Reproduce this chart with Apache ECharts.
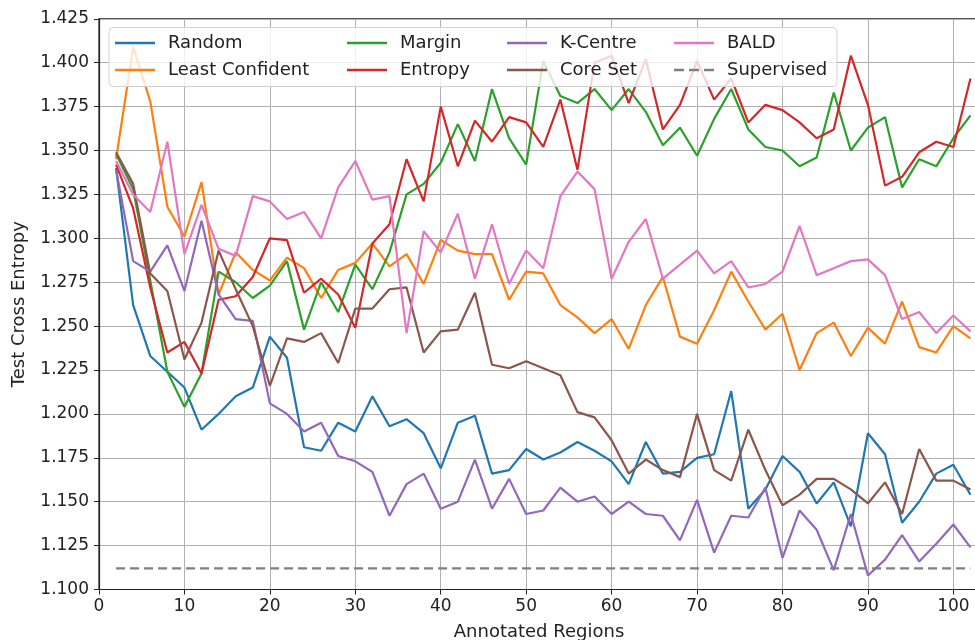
<!DOCTYPE html>
<html>
<head>
<meta charset="utf-8">
<script src="https://cdn.jsdelivr.net/npm/echarts@6/dist/echarts.min.js"></script>
<style>
  html, body { margin: 0; padding: 0; background: #fff; }
  #chart { width: 975px; height: 640px; }
</style>
</head>
<body>
<div id="chart"></div>
<script>
const xValues = [2,4,6,8,10,12,14,16,18,20,22,24,26,28,30,32,34,36,38,40,42,44,46,48,50,
  52,54,56,58,60,62,64,66,68,70,72,74,76,78,80,82,84,86,88,90,92,94,96,98,100,102];

const random = [1.340,1.262,1.233,1.224,1.215,1.191,1.200,1.210,1.215,1.244,1.232,1.181,1.179,
  1.195,1.190,1.210,1.193,1.197,1.189,1.169,1.195,1.199,1.166,1.168,1.180,
  1.174,1.178,1.184,1.179,1.173,1.160,1.184,1.166,1.167,1.175,1.177,1.213,1.146,
  1.157,1.176,1.167,1.149,1.161,1.136,1.189,1.177,1.138,1.150,1.166,1.171,1.154];

const leastConfident = [1.345,1.409,1.378,1.318,1.301,1.332,1.268,1.292,1.282,1.276,1.289,1.283,1.266,
  1.282,1.286,1.297,1.284,1.291,1.274,1.299,1.293,1.291,1.291,1.265,1.281,
  1.280,1.262,1.255,1.246,1.254,1.237,1.262,1.278,1.244,1.240,1.259,1.281,1.264,
  1.248,1.257,1.225,1.246,1.252,1.233,1.249,1.240,1.264,1.238,1.235,1.250,1.243];

const margin = [1.348,1.328,1.276,1.224,1.204,1.223,1.281,1.275,1.266,1.273,1.287,1.248,1.275,
  1.258,1.285,1.271,1.292,1.325,1.331,1.343,1.365,1.344,1.385,1.357,1.342,
  1.401,1.381,1.377,1.385,1.373,1.385,1.372,1.353,1.363,1.347,1.368,1.385,1.362,
  1.352,1.350,1.341,1.346,1.383,1.350,1.363,1.369,1.329,1.345,1.341,1.357,1.370];

const entropy = [1.342,1.317,1.272,1.235,1.241,1.223,1.265,1.267,1.278,1.300,1.299,1.269,1.277,
  1.268,1.249,1.297,1.308,1.345,1.321,1.375,1.341,1.367,1.355,1.369,1.366,
  1.352,1.379,1.339,1.400,1.404,1.377,1.402,1.362,1.376,1.401,1.379,1.391,1.366,
  1.376,1.373,1.366,1.357,1.362,1.404,1.376,1.330,1.335,1.349,1.355,1.352,1.391];

const kCentre = [1.339,1.287,1.281,1.296,1.270,1.310,1.268,1.254,1.253,1.206,1.200,1.190,1.195,
  1.176,1.173,1.167,1.142,1.160,1.166,1.146,1.150,1.174,1.146,1.163,1.143,
  1.145,1.158,1.150,1.153,1.143,1.150,1.143,1.142,1.128,1.151,1.121,1.142,1.141,
  1.158,1.118,1.145,1.134,1.111,1.143,1.108,1.117,1.131,1.116,1.126,1.137,1.124];

const coreSet = [1.349,1.331,1.280,1.270,1.231,1.252,1.293,1.271,1.250,1.216,1.243,1.241,1.246,
  1.229,1.260,1.260,1.271,1.272,1.235,1.247,1.248,1.269,1.228,1.226,1.230,
  1.226,1.222,1.201,1.198,1.185,1.166,1.174,1.168,1.164,1.200,1.168,1.162,1.191,
  1.168,1.148,1.154,1.163,1.163,1.157,1.149,1.161,1.143,1.180,1.162,1.162,1.157];

const bald = [1.344,1.325,1.315,1.355,1.291,1.319,1.294,1.290,1.324,1.321,1.311,1.315,1.300,
  1.329,1.344,1.322,1.324,1.246,1.304,1.292,1.314,1.277,1.308,1.274,1.293,
  1.283,1.324,1.338,1.328,1.277,1.298,1.311,1.277,1.285,1.293,1.280,1.287,1.272,
  1.274,1.281,1.307,1.279,1.283,1.287,1.288,1.279,1.254,1.258,1.246,1.256,1.247];

const supervisedValue = 1.112;
const supervisedX = [2, 102];

const yTicks = { min: 1.1, max: 1.425, step: 0.025 };
const xTicks = { min: 0, max: 103, step: 10 };

const FONT = 'DejaVu Sans';
const LEGEND_FONT = 18;
const SOLID_ICON = 'path://M0,0 L40,0 L40,2.4 L0,2.4 Z';
const DASHED_ICON = 'path://M0,0 L10,0 L10,2.4 L0,2.4 Z M15,0 L25,0 L25,2.4 L15,2.4 Z M30,0 L40,0 L40,2.4 L30,2.4 Z';
const colors = {
  'Random': '#1f77b4', 'Least Confident': '#ff7f0e', 'Margin': '#2ca02c', 'Entropy': '#d62728',
  'K-Centre': '#9467bd', 'Core Set': '#8c564b', 'BALD': '#e377c2', 'Supervised': '#7f7f7f'
};
const seriesDefs = [
  ['Random', random], ['Least Confident', leastConfident], ['Margin', margin], ['Entropy', entropy],
  ['K-Centre', kCentre], ['Core Set', coreSet], ['BALD', bald]
];

const series = seriesDefs.map(([name, vals]) => ({
  name, type: 'line', symbol: 'none', smooth: false,
  data: xValues.map((x, i) => [x, vals[i]]),
  lineStyle: { color: colors[name], width: 2.2 },
  itemStyle: { color: colors[name] },
  z: 2
}));
series.push({
  name: 'Supervised', type: 'line', symbol: 'none',
  data: supervisedX.map(x => [x, supervisedValue]),
  lineStyle: { color: colors['Supervised'], width: 2.2, type: [9, 5] },
  itemStyle: { color: colors['Supervised'] },
  z: 2
});

// measure width of first legend column to size the frame drawn behind it
const mctx = document.createElement('canvas').getContext('2d');
mctx.font = LEGEND_FONT + 'px "' + FONT + '"';
const col1TextW = Math.max(mctx.measureText('Random').width, mctx.measureText('Least Confident').width);
const BOX = { left: 109, top: 27.5, width: 728, height: 59 };
const col1ContentW = 40 + 5 + 8 + col1TextW;
const padL = 6, padT = 5.5;
const padR = BOX.width - padL - col1ContentW;
const padB = BOX.height - padT - 47;

function legendCol(left, names, first) {
  const o = {
    orient: 'vertical', left: first ? BOX.left : left, top: first ? BOX.top : BOX.top + padT,
    padding: first ? [padT, padR, padB, padL] : 0,
    itemWidth: 40, itemHeight: 14, itemGap: 7,
    icon: SOLID_ICON,
    data: names.map(n => n === 'Supervised' ? { name: n, icon: DASHED_ICON } : n),
    textStyle: { fontFamily: FONT, fontSize: LEGEND_FONT, color: '#222', lineHeight: 20, padding: [0, 0, 0, 8] },
    zlevel: 1, z: first ? 5 : 6, selectedMode: false
  };
  if (first) {
    o.backgroundColor = 'rgba(255,255,255,0.8)';
    o.borderColor = '#d0d0d0';
    o.borderWidth = 1;
    o.borderRadius = 4;
  }
  return o;
}

const chart = echarts.init(document.getElementById('chart'), null, { renderer: 'canvas' });
chart.setOption({
  animation: false,
  backgroundColor: '#fff',
  grid: { left: 99, top: 18.8, width: 880, height: 570.7, show: true, borderColor: '#222', borderWidth: 1.2,
    containLabel: false, outerBoundsMode: 'none' },
  xAxis: {
    type: 'value', min: xTicks.min, max: xTicks.max, interval: xTicks.step,
    name: 'Annotated Regions', nameLocation: 'middle', nameGap: 34,
    nameTextStyle: { fontFamily: FONT, fontSize: 18, color: '#222' },
    axisLine: { show: true, lineStyle: { color: '#222', width: 1.2 } },
    axisTick: { show: true, length: 5, lineStyle: { color: '#222' } },
    axisLabel: { fontFamily: FONT, fontSize: 17, color: '#222', margin: 9, showMaxLabel: false },
    splitLine: { show: true, lineStyle: { color: '#b0b0b0', width: 1 } }
  },
  yAxis: {
    type: 'value', min: yTicks.min, max: yTicks.max, interval: yTicks.step,
    name: 'Test Cross Entropy', nameLocation: 'middle', nameGap: 71,
    nameTextStyle: { fontFamily: FONT, fontSize: 18, color: '#222' },
    axisLine: { show: true, lineStyle: { color: '#222', width: 1.2 } },
    axisTick: { show: true, length: 5, lineStyle: { color: '#222' } },
    axisLabel: { fontFamily: FONT, fontSize: 17, color: '#222', margin: 10,
      formatter: v => v.toFixed(3) },
    splitLine: { show: true, lineStyle: { color: '#b0b0b0', width: 1 } }
  },
  legend: [
    legendCol(115, ['Random', 'Least Confident'], true),
    legendCol(347, ['Margin', 'Entropy']),
    legendCol(507, ['K-Centre', 'Core Set']),
    legendCol(674, ['BALD', 'Supervised'])
  ],
  series
});
</script>
</body>
</html>
